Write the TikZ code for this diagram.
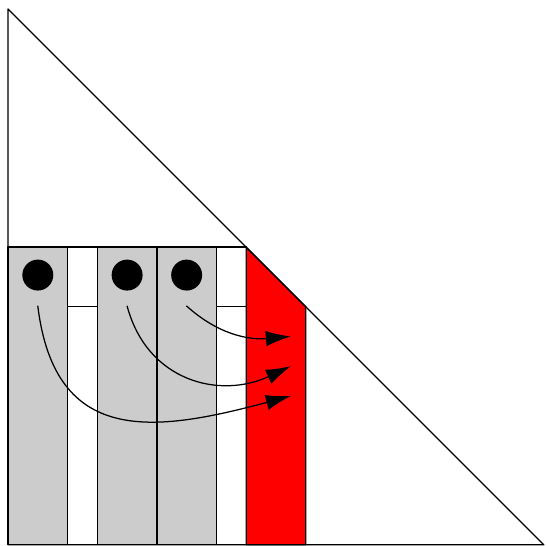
\documentclass[tikz,border=0pt]{standalone}
\usetikzlibrary{arrows.meta}
\begin{document}
\begin{tikzpicture}[semithick, line join=round, line cap=round, >={Latex[length=4.2mm,width=2.6mm]}]
	\useasboundingbox (-0.135,-0.02) rectangle (9.02,9.15);
	\tikzset{bar/.style={draw, fill=black!20}, gap/.style={draw, fill=white},
		ball/.style={circle, fill=black, inner sep=0pt, minimum size=5.2mm}}
	% columns
	\foreach \a/\b in {0/1, 1.5/2.5, 2.5/3.5}
		\draw[bar] (\a,0) rectangle (\b,5);
	\foreach \a/\b in {1/1.5, 3.5/4}{
		\draw[gap] (\a,0) rectangle (\b,4);
		\draw[gap] (\a,4) rectangle (\b,5);
	}
	\draw[fill=red] (4,0) -- (4,5) -- (5,4) -- (5,0) -- cycle;
	% triangle
	\draw (0,9) -- (0,0) -- (9,0) -- cycle;
	% balls and moves
	\node[ball] (p1) at (0.5,4.53) {};
	\node[ball] (p2) at (2,4.53) {};
	\node[ball] (p3) at (3,4.53) {};
	\coordinate (t1) at (4.75,2.5);
	\coordinate (t2) at (4.75,3);
	\coordinate (t3) at (4.75,3.5);
	\draw[->] ([yshift=-2.5mm]p1.south) to[out=-83, in=195, looseness=1.35] (t1);
	\draw[->] ([yshift=-2.5mm]p2.south) to[out=-75, in=205, looseness=1.15] (t2);
	\draw[->] ([yshift=-2.5mm]p3.south) to[out=-42, in=185, looseness=1] (t3);
\end{tikzpicture}
\end{document}
